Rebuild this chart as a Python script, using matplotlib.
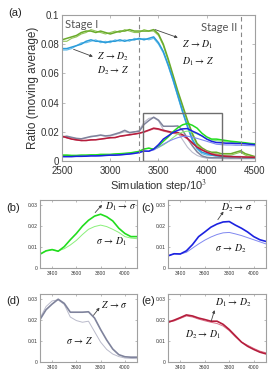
import matplotlib
matplotlib.use("Agg")
import matplotlib.pyplot as plt
import numpy as np
from matplotlib.patches import Rectangle

plt.rcParams['mathtext.fontset'] = 'stix'
plt.rcParams['font.family'] = ['Liberation Sans', 'DejaVu Sans']

# ---------------- data ----------------
steps = list(range(2500, 4501, 50))

z_d1 = [.083,.084,.085,.086,.088,.089,.089,.088,.089,.088,.087,.088,.089,.089,.090,.089,.089,.089,.089,.090,
        .087,.080,.070,.059,.048,.038,.028,.019,.012,.009,.007,.006,.006,.005,.005,.005,.006,.007,.005,.004,.003]
d1_z = [.082,.082,.084,.085,.087,.088,.090,.089,.088,.087,.088,.089,.088,.090,.089,.088,.088,.090,.089,.089,
        .086,.079,.069,.058,.047,.037,.027,.018,.011,.008,.006,.005,.005,.004,.004,.004,.005,.006,.004,.003,.003]
z_d2 = [.077,.077,.078,.079,.080,.082,.083,.082,.082,.081,.082,.082,.083,.082,.083,.083,.084,.083,.084,.085,
        .081,.075,.066,.056,.045,.034,.024,.015,.009,.006,.005,.004,.004,.003,.003,.003,.003,.003,.002,.002,.002]
d2_z = [.076,.076,.077,.079,.081,.081,.082,.083,.081,.082,.081,.083,.082,.083,.082,.084,.083,.084,.083,.084,
        .080,.074,.065,.055,.044,.033,.023,.014,.008,.005,.004,.004,.003,.003,.003,.002,.003,.002,.002,.002,.002]

d1_sig = [.004,.004,.0038,.0038,.004,.004,.0042,.0042,.0045,.0045,.0045,.0048,.005,.0052,.0055,.006,
          .0066,.0082,.0088,.0080,.0102,.0135,.0165,.0200,.0228,.0248,.0257,.0245,.0225,.0190,.0165,.0150,.0150,
          .0145,.0140,.0135,.0132,.0128,.0125,.0120,.0118]
sig_d1 = [.004,.004,.0038,.0038,.004,.004,.0042,.0042,.0045,.0045,.0045,.0048,.005,.0052,.0055,.006,
          .0066,.0082,.0088,.0082,.0092,.0110,.0132,.0160,.0185,.0198,.0205,.0198,.0185,.0170,.0150,.0143,.0140,
          .0135,.0132,.0128,.0125,.0122,.0120,.0116,.0112]
d2_sig = [.003,.003,.003,.0032,.0032,.0033,.0035,.0035,.0036,.0038,.004,.004,.0042,.0045,.0048,.0052,
          .0058,.0068,.0067,.0082,.0112,.0150,.0172,.0195,.0210,.0220,.0222,.0205,.0190,.0172,.0150,.0135,.0127,
          .0125,.0122,.0122,.0120,.0120,.0118,.0115,.0112]
sig_d2 = [.003,.003,.003,.0032,.0032,.0033,.0035,.0035,.0036,.0038,.004,.004,.0042,.0045,.0048,.0052,
          .0058,.0068,.0067,.0075,.0095,.0115,.0133,.0148,.0160,.0168,.0170,.0163,.0155,.0145,.0135,.0125,.0115,
          .0112,.0110,.0110,.0108,.0108,.0106,.0105,.0104]

z_sig = [.0165,.0170,.0162,.0155,.0152,.0160,.0168,.0172,.0178,.0172,.0175,.0185,.0195,.0210,.0195,.0200,
         .0203,.0250,.0277,.0300,.0280,.0238,.0238,.0238,.0240,.0210,.0155,.0105,.0062,.0035,.0025,.0023,.0023,
         .0022,.0022,.0021,.0021,.0020,.0020,.0020,.0020]
sig_z = [.0160,.0165,.0160,.0152,.0150,.0158,.0165,.0170,.0175,.0170,.0172,.0180,.0190,.0200,.0192,.0198,
         .0210,.0265,.0292,.0297,.0275,.0215,.0198,.0190,.0195,.0145,.0095,.0060,.0038,.0026,.0019,.0017,.0016,
         .0016,.0015,.0015,.0015,.0015,.0015,.0015,.0015]
d1_d2 = [.0170,.0160,.0150,.0145,.0140,.0140,.0145,.0145,.0150,.0155,.0160,.0160,.0170,.0175,.0180,.0185,
         .0190,.0200,.0212,.0225,.0220,.0210,.0203,.0195,.0195,.0180,.0155,.0125,.0095,.0075,.0060,.0047,.0039,
         .0035,.0032,.0030,.0029,.0028,.0027,.0026,.0025]
d2_d1 = [.0168,.0158,.0150,.0143,.0140,.0142,.0143,.0147,.0150,.0153,.0158,.0162,.0168,.0173,.0178,.0183,
         .0190,.0196,.0208,.0220,.0215,.0205,.0197,.0190,.0184,.0172,.0150,.0120,.0095,.0080,.0065,.0052,.0044,
         .0038,.0034,.0032,.0030,.0029,.0028,.0027,.0026]

x_ticks_main = [2500, 3000, 3500, 4000, 4500]
y_ticks_main = [0, 0.02, 0.04, 0.06, 0.08, 0.1]
y_labels_main = ['0', '0.02', '0.04', '0.06', '0.08', '0.1']
x_ticks_sub = [3400, 3600, 3800, 4000]
y_ticks_sub = [0, 0.01, 0.02, 0.03]
y_labels_sub = ['0', '0.01', '0.02', '0.03']

# colors (dark, light)
c_olive = ('#6aab2a', '#93c65a')
c_sky = ('#2b9cda', '#64bdea')
c_lime = ('#22dd1e', '#8af07a')
c_blue = ('#1c22e0', '#8088f0')
c_gray = ('#7f839c', '#babbcb')
c_red = ('#b51d3c', '#dc7088')

W, H = 269, 372
fig = plt.figure(figsize=(W / 100, H / 100), dpi=100)

def px_axes(l, t, r, b):
    return fig.add_axes([l / W, 1 - b / H, (r - l) / W, (b - t) / H])

spine_col = '#a0a0a0'

def style(ax, size, length, padx, pady):
    for s in ax.spines.values():
        s.set_color(spine_col)
        s.set_linewidth(0.8)
    ax.tick_params(direction='in', length=length, width=0.5, colors=spine_col,
                   labelcolor='#333333', labelsize=size, top=True, right=True)
    ax.tick_params(axis='x', pad=padx)
    ax.tick_params(axis='y', pad=pady)

# ---------------- main panel ----------------
ax = px_axes(62, 15, 255, 161)
style(ax, 7, 2.5, 3.5, 2)
ax.plot(steps, d1_z, color=c_olive[1], lw=0.8)
ax.plot(steps, z_d1, color=c_olive[0], lw=1.1)
ax.plot(steps, d2_z, color=c_sky[1], lw=0.8)
ax.plot(steps, z_d2, color=c_sky[0], lw=1.1)
ax.plot(steps, sig_z, color=c_gray[1], lw=0.8)
ax.plot(steps, z_sig, color=c_gray[0], lw=1.1)
ax.plot(steps, d2_d1, color=c_red[1], lw=0.8)
ax.plot(steps, d1_d2, color=c_red[0], lw=1.1)
ax.plot(steps, sig_d1, color=c_lime[1], lw=0.8)
ax.plot(steps, d1_sig, color=c_lime[0], lw=1.1)
ax.plot(steps, sig_d2, color=c_blue[1], lw=0.8)
ax.plot(steps, d2_sig, color=c_blue[0], lw=1.1)
ax.axvline(3300, color='#888888', lw=0.8, ls=(0, (4, 3)))
ax.axvline(4355, color='#888888', lw=0.8, ls=(0, (4, 3)))
ax.add_patch(Rectangle((3340, 0), 820, 0.033, fill=False, ec='#6e6e6e', lw=1.0, zorder=5))
ax.set_xlim(2500, 4500)
ax.set_ylim(0, 0.1)
ax.set_xticks(x_ticks_main)
ax.set_yticks(y_ticks_main)
ax.set_yticklabels(y_labels_main)
ax.set_xlabel('Simulation step/10$^3$', fontsize=8, color='#333333', labelpad=1.5)
ax.set_ylabel('Ratio (moving average)', fontsize=8.5, color='#333333', labelpad=1)
ax.text(2530, 0.0975, 'Stage I', fontsize=8, color='#555555', va='top', family='Lato')
ax.text(4320, 0.0955, 'Stage II', fontsize=8, color='#555555', va='top', ha='right', family='Lato')
arrowp = dict(arrowstyle='-|>', color='#444444', lw=0.6, mutation_scale=4, shrinkA=0, shrinkB=0)
ax.annotate('', xy=(3700, 0.0845), xytext=(3465, 0.0900), arrowprops=arrowp)
ax.text(3745, 0.0795, r'$Z\,\rightarrow\,D_1$', fontsize=7, va='center', color='#111111')
ax.text(3745, 0.0680, r'$D_1\rightarrow\,Z$', fontsize=7, va='center', color='#111111')
ax.annotate('', xy=(2820, 0.0715), xytext=(2620, 0.0765), arrowprops=arrowp)
ax.text(2865, 0.0715, r'$Z\,\rightarrow\,D_2$', fontsize=7, va='center', color='#111111')
ax.text(2865, 0.0615, r'$D_2\rightarrow\,Z$', fontsize=7, va='center', color='#111111')
fig.text(8 / W, 1 - 13 / H, '(a)', fontsize=8, va='center', color='#222222')

# ---------------- sub panels ----------------
def sub(box, dark, light, col, label, lpos, texts, arrow):
    a = px_axes(*box)
    style(a, 3.6, 1.2, 2, 1.5)
    a.plot(steps, light, color=col[1], lw=0.7)
    a.plot(steps, dark, color=col[0], lw=1.2)
    a.set_xlim(3300, 4100)
    a.set_ylim(0, 0.0325)
    a.set_xticks(x_ticks_sub)
    a.set_yticks(y_ticks_sub)
    a.set_yticklabels(y_labels_sub)
    for (tx, ty, s) in texts:
        a.text(tx, ty, s, fontsize=7, va='center', color='#111111')
    a.annotate('', xy=arrow[1], xytext=arrow[0], arrowprops=arrowp)
    fig.text(lpos[0] / W, 1 - lpos[1] / H, label, fontsize=8, va='center', color='#222222')
    return a

sub((40, 200, 137, 268), d1_sig, sig_d1, c_lime, '(b)', (6, 208),
    [(3832, 0.0295, r'$D_1\rightarrow\,\sigma$'), (3765, 0.0125, r'$\sigma\,\rightarrow\,D_1$')],
    ((3755, 0.0265), (3812, 0.0302)))
sub((168, 200, 266, 268), d2_sig, sig_d2, c_blue, '(c)', (141, 208),
    [(3735, 0.0290, r'$D_2\rightarrow\,\sigma$'), (3680, 0.0094, r'$\sigma\,\rightarrow\,D_2$')],
    ((3707, 0.0231), (3753, 0.0270)))
sub((40, 294, 137, 362), z_sig, sig_z, c_gray, '(d)', (6, 301),
    [(3805, 0.0275, r'$Z\,\rightarrow\,\sigma$'), (3515, 0.0103, r'$\sigma\,\rightarrow\,Z$')],
    ((3741, 0.0223), (3791, 0.0260)))
sub((168, 294, 266, 362), d1_d2, d2_d1, c_red, '(e)', (141, 301),
    [(3680, 0.0285, r'$D_1\rightarrow\,D_2$'), (3440, 0.0130, r'$D_2\rightarrow\,D_1$')],
    ((3653, 0.0196), (3680, 0.0248)))

fig.savefig('out.png', dpi=100)
